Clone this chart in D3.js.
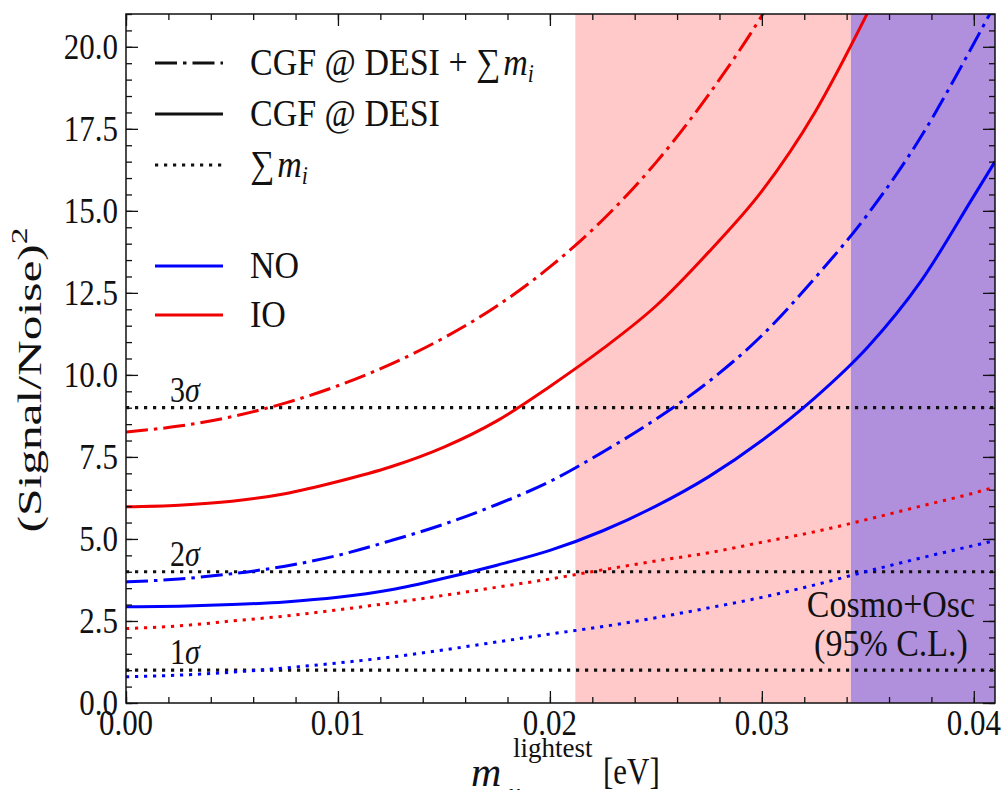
<!DOCTYPE html>
<html>
<head>
<meta charset="utf-8">
<script src="https://cdnjs.cloudflare.com/ajax/libs/d3/7.8.5/d3.min.js"></script>
<style>
  body { margin: 0; background: #fff; }
  svg { display: block; }
</style>
</head>
<body>
<svg width="1005" height="790"></svg>
<script>
// lightest neutrino mass grid [eV]
var mLight = [0, 0.0025, 0.005, 0.0075, 0.01, 0.0125, 0.015, 0.0175, 0.02, 0.0225,
              0.025, 0.0275, 0.03, 0.0325, 0.035, 0.0375, 0.04, 0.041];

// (S/N)^2
var noCGFsum = [3.69, 3.78, 3.94, 4.17, 4.5, 4.95, 5.45, 6.05, 6.75, 7.65,
                8.65, 9.8, 11.2, 12.95, 14.9, 17.25, 20.1, 21.3];
var noCGF    = [2.93, 2.95, 3.0, 3.08, 3.22, 3.45, 3.8, 4.2, 4.65, 5.25,
                6.0, 6.9, 8.0, 9.3, 10.85, 12.85, 15.45, 16.5];
var noSum    = [0.8, 0.85, 0.94, 1.07, 1.22, 1.4, 1.62, 1.86, 2.1, 2.33,
                2.6, 2.9, 3.22, 3.6, 4.02, 4.42, 4.8, 4.95];
var ioCGFsum = [8.26, 8.44, 8.73, 9.14, 9.67, 10.33, 11.13, 12.1, 13.29, 14.73,
                16.47, 18.55, 20.95, 23.8, null, null, null, null];
var ioCGF    = [5.98, 6.03, 6.15, 6.38, 6.75, 7.2, 7.8, 8.6, 9.65, 10.8,
                12.1, 13.75, 15.6, 18.0, 21.05, null, null, null];
var ioSum    = [2.27, 2.35, 2.5, 2.65, 2.84, 3.05, 3.28, 3.53, 3.78, 4.06,
                4.33, 4.58, 4.9, 5.22, 5.6, 6.0, 6.4, 6.58];

var sigmaLevels = [1, 4, 9];
var sigmaLabels = ["1σ", "2σ", "3σ"];

var pinkStart = 0.0212;     // excluded region edges
var purpleStart = 0.0342;

var xMajor = [0, 0.01, 0.02, 0.03, 0.04];
var yMajor = [0, 2.5, 5, 7.5, 10, 12.5, 15, 17.5, 20];

var svg = d3.select("svg");
var FONT = "Liberation Serif";
var BLUE = "#0000ff", RED = "#f00000";
var DASHDOT = "22,6,3.5,6", DOT = "3.2,5.8";

var x = d3.scaleLinear().domain([0, 0.041]).range([126, 995]);
var y = d3.scaleLinear().domain([0, 21]).range([703, 14]);

var xMinor = d3.range(0, 0.0411, 0.002);
var yMinor = d3.range(0, 21.01, 0.5);

svg.append("defs").append("clipPath").attr("id", "plot")
  .append("rect")
    .attr("x", x(0)).attr("y", y(21))
    .attr("width", x(0.041) - x(0)).attr("height", y(0) - y(21));

// shaded regions
svg.append("rect")
    .attr("x", x(pinkStart)).attr("y", y(21))
    .attr("width", x(purpleStart) - x(pinkStart)).attr("height", y(0) - y(21))
    .attr("fill", "#ffc9c9");
svg.append("rect")
    .attr("x", x(purpleStart)).attr("y", y(21))
    .attr("width", x(0.041) - x(purpleStart)).attr("height", y(0) - y(21))
    .attr("fill", "#b08fdc");

var plot = svg.append("g").attr("clip-path", "url(#plot)");

plot.selectAll("line.sigma")
  .data(sigmaLevels)
  .enter().append("line")
    .attr("class", "sigma")
    .attr("x1", x(0)).attr("x2", x(0.041))
    .attr("y1", function(d) { return y(d); })
    .attr("y2", function(d) { return y(d); })
    .attr("stroke", "#111")
    .attr("stroke-width", 3.2)
    .attr("stroke-dasharray", DOT);

var curves = [
  {vals: noSum, color: BLUE, dash: DOT},
  {vals: ioSum, color: RED, dash: DOT},
  {vals: noCGF, color: BLUE, dash: null},
  {vals: ioCGF, color: RED, dash: null},
  {vals: noCGFsum, color: BLUE, dash: DASHDOT},
  {vals: ioCGFsum, color: RED, dash: DASHDOT}
];

var line = d3.line()
    .defined(function(d) { return d[1] != null; })
    .x(function(d) { return x(d[0]); })
    .y(function(d) { return y(d[1]); })
    .curve(d3.curveMonotoneX);

plot.selectAll("path.curve")
  .data(curves)
  .enter().append("path")
    .attr("class", "curve")
    .attr("d", function(c) { return line(mLight.map(function(m, i) { return [m, c.vals[i]]; })); })
    .attr("fill", "none")
    .attr("stroke", function(c) { return c.color; })
    .attr("stroke-width", 3)
    .attr("stroke-dasharray", function(c) { return c.dash; });

// ticks pointing inward on all four sides
function ticks(axis, tx, ty, vals, len) {
  var g = svg.append("g")
      .attr("transform", "translate(" + tx + "," + ty + ")")
      .call(axis.tickValues(vals).tickSize(-len).tickSizeOuter(0).tickFormat(""));
  g.select(".domain").remove();
  g.selectAll("line").attr("stroke", "#111").attr("stroke-width", 1.3);
}
ticks(d3.axisBottom(x), 0, y(0), xMajor, 12);
ticks(d3.axisBottom(x), 0, y(0), xMinor, 6);
ticks(d3.axisTop(x), 0, y(21), xMajor, 12);
ticks(d3.axisTop(x), 0, y(21), xMinor, 6);
ticks(d3.axisLeft(y), x(0), 0, yMajor, 12);
ticks(d3.axisLeft(y), x(0), 0, yMinor, 6);
ticks(d3.axisRight(y), x(0.041), 0, yMajor, 12);
ticks(d3.axisRight(y), x(0.041), 0, yMinor, 6);

svg.append("rect")
    .attr("x", x(0)).attr("y", y(21))
    .attr("width", x(0.041) - x(0)).attr("height", y(0) - y(21))
    .attr("fill", "none").attr("stroke", "#111").attr("stroke-width", 1.5);

// text drawn a bit taller than wide, like the source figure
function label(px, py, size, anchor, sy) {
  return svg.append("text")
      .attr("transform", "translate(" + px + "," + py + ") scale(1," + (sy || 1.15) + ")")
      .attr("font-family", FONT)
      .attr("font-size", size)
      .attr("fill", "#111")
      .attr("text-anchor", anchor || "start");
}

xMajor.forEach(function(v) { label(x(v), 735, 31, "middle", 1.17).text(d3.format(".2f")(v)); });
yMajor.forEach(function(v) { label(118, y(v) + 12, 31, "end", 1.17).text(d3.format(".1f")(v)); });

// axis titles
var yl = svg.append("text")
    .attr("transform", "translate(41,380) rotate(-90)")
    .attr("font-family", FONT)
    .attr("font-size", 34)
    .attr("fill", "#111")
    .attr("text-anchor", "middle")
    .attr("textLength", 305)
    .attr("lengthAdjust", "spacingAndGlyphs");
yl.append("tspan").text("(Signal/Noise)");
yl.append("tspan").attr("font-size", 23).attr("dy", -14).text("2");

label(471, 786, 42, "start", 1).attr("font-style", "italic").text("m");
label(509, 800, 24, "start", 1).attr("font-style", "italic").text("ν");
label(513, 757, 27, "start", 1).text("lightest");
label(603, 784, 31, "start", 1.2).text("[eV]");

// sigma labels
sigmaLevels.forEach(function(v, i) {
  var t = label(170, y(v) - 6, 30, "start", 1.17);
  t.append("tspan").text(sigmaLabels[i].charAt(0));
  t.append("tspan").attr("font-style", "italic").text(sigmaLabels[i].slice(1));
});

label(891, 617, 34, "middle", 1.12).text("Cosmo+Osc");
label(891, 656, 34, "middle", 1.12).text("(95% C.L.)");

// legend
var legend = [
  {y: 63, color: "#111", dash: DASHDOT, txt: "CGF @ DESI + ", sum: true},
  {y: 114, color: "#111", dash: null, txt: "CGF @ DESI", sum: false},
  {y: 165, color: "#111", dash: DOT, txt: "", sum: true},
  {y: 266, color: BLUE, dash: null, txt: "NO", sum: false},
  {y: 315, color: RED, dash: null, txt: "IO", sum: false}
];
legend.forEach(function(d) {
  svg.append("line")
      .attr("x1", 155).attr("x2", 223)
      .attr("y1", d.y).attr("y2", d.y)
      .attr("stroke", d.color)
      .attr("stroke-width", 3)
      .attr("stroke-dasharray", d.dash);
  var t = label(250, d.y + 12, 34, "start", 1.12);
  t.append("tspan").text(d.txt);
  if (d.sum) {
    t.append("tspan").text("∑");
    t.append("tspan").attr("font-style", "italic").attr("dx", 3).text("m");
    t.append("tspan").attr("font-style", "italic").attr("font-size", 22).attr("dy", 6).text("i");
  }
});
</script>
</body>
</html>
